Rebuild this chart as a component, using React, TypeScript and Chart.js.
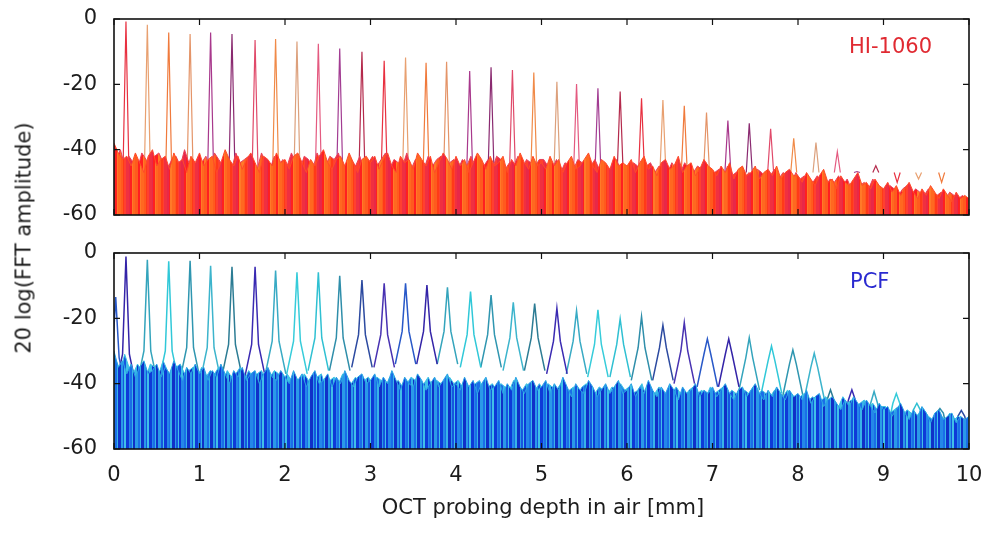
import React, { useEffect, useRef } from 'react';
import { Chart, registerables } from 'chart.js';

Chart.register(...registerables);

// ---------- data ----------
const xTickValues = [0, 1, 2, 3, 4, 5, 6, 7, 8, 9, 10];
const yTickValues = [-60, -40, -20, 0];
const noiseStep = 0.05; // mm between noise samples
const noiseOffsetB = 0.025; // second trace sampled half a step later

// HI-1060 noise floor top (dB), trace A, 0 .. 10 mm
const hiNoise = [
  -38, -41, -43, -42, -45, -41, -44, -47, -42, -40, -45, -43, -42, -46, -41, -44, -43, -47, -42, -44,
  -41, -45, -43, -42, -47, -44, -40, -43, -45, -42, -46, -43, -41, -44, -47, -42, -43, -45, -41, -44,
  -43, -46, -42, -41, -44, -47, -43, -45, -42, -40, -44, -46, -43, -42, -45, -41, -44, -47, -43, -42,
  -44, -42, -46, -43, -41, -45, -47, -42, -44, -43, -46, -41, -43, -45, -42, -47, -44, -41, -43, -46,
  -42, -45, -43, -47, -44, -41, -43, -46, -42, -45, -44, -42, -47, -43, -45, -41, -44, -46, -42, -45,
  -44, -46, -42, -45, -43, -47, -44, -42, -46, -45, -43, -41, -45, -47, -43, -44, -46, -42, -45, -44,
  -45, -43, -47, -44, -42, -46, -45, -48, -44, -43, -46, -45, -42, -47, -45, -44, -48, -46, -43, -45,
  -46, -48, -45, -47, -44, -49, -46, -45, -48, -47, -45, -49, -47, -46, -48, -45, -49, -47, -46, -48,
  -48, -50, -47, -49, -51, -48, -46, -50, -49, -52, -48, -50, -51, -49, -47, -51, -50, -52, -49, -51,
  -52, -50, -53, -51, -54, -52, -50, -53, -55, -52, -54, -51, -53, -55, -52, -54, -56, -53, -55, -54,
  -55,
];
// HI-1060 noise, trace B
const hiNoiseB = [
  -43, -40, -45, -42, -44, -46, -41, -43, -45, -42, -41, -44, -46, -43, -42, -45, -40, -44, -43, -46,
  -44, -42, -46, -41, -43, -45, -42, -46, -41, -44, -43, -42, -45, -46, -41, -44, -46, -42, -45, -43,
  -45, -41, -44, -46, -42, -43, -46, -41, -44, -45, -42, -43, -41, -46, -44, -43, -45, -42, -46, -44,
  -42, -45, -43, -41, -46, -43, -44, -45, -41, -46, -43, -44, -46, -42, -45, -43, -42, -46, -44, -43,
  -46, -43, -45, -42, -46, -44, -45, -43, -46, -42, -43, -46, -44, -45, -42, -46, -43, -44, -45, -43,
  -43, -45, -46, -43, -47, -44, -45, -46, -43, -44, -47, -45, -43, -46, -44, -47, -45, -43, -46, -45,
  -46, -44, -45, -47, -45, -44, -47, -45, -46, -47, -44, -46, -47, -44, -46, -47, -45, -46, -44, -47,
  -47, -46, -49, -45, -48, -47, -46, -49, -47, -48, -46, -47, -49, -48, -46, -49, -47, -48, -50, -47,
  -49, -48, -51, -50, -48, -50, -51, -49, -50, -48, -51, -49, -52, -50, -51, -50, -52, -49, -51, -53,
  -53, -51, -52, -54, -52, -51, -54, -52, -53, -54, -52, -53, -54, -53, -55, -53, -54, -55, -54, -56,
];

// PCF noise floor top (dB), trace A, 0 .. 10 mm
const pcfNoise = [
  -30, -35, -33, -37, -34, -38, -35, -33, -37, -36, -34, -38, -35, -37, -33, -36, -39, -35, -37, -34,
  -37, -35, -39, -36, -38, -34, -37, -40, -36, -38, -35, -39, -37, -36, -40, -37, -35, -38, -39, -36,
  -38, -40, -36, -39, -37, -41, -38, -36, -40, -39, -37, -41, -38, -40, -36, -39, -41, -38, -37, -40,
  -39, -37, -41, -38, -40, -36, -39, -42, -38, -40, -41, -37, -39, -42, -40, -38, -41, -39, -37, -41,
  -40, -42, -38, -41, -39, -43, -40, -38, -42, -41, -39, -43, -40, -42, -38, -41, -43, -40, -39, -42,
  -41, -39, -43, -40, -42, -38, -41, -44, -40, -42, -43, -39, -41, -44, -42, -40, -43, -41, -39, -43,
  -42, -40, -44, -41, -43, -39, -42, -44, -41, -43, -40, -42, -45, -41, -43, -42, -40, -44, -42, -43,
  -41, -44, -42, -40, -43, -45, -42, -41, -44, -42, -40, -43, -45, -42, -44, -41, -43, -45, -42, -44,
  -43, -45, -42, -46, -44, -43, -47, -45, -44, -46, -48, -45, -47, -44, -46, -48, -45, -47, -49, -46,
  -48, -47, -50, -48, -46, -49, -51, -48, -50, -47, -49, -52, -49, -48, -51, -50, -49, -52, -50, -51,
  -50,
];
// PCF noise, trace B
const pcfNoiseB = [
  -33, -36, -31, -35, -37, -34, -36, -38, -34, -35, -37, -33, -36, -38, -35, -34, -37, -36, -35, -38,
  -35, -38, -36, -37, -35, -39, -36, -38, -37, -35, -39, -36, -38, -37, -36, -39, -38, -36, -37, -39,
  -37, -39, -38, -40, -37, -39, -40, -38, -37, -41, -39, -38, -40, -37, -39, -40, -38, -40, -39, -38,
  -40, -38, -39, -41, -38, -40, -39, -41, -40, -38, -39, -41, -40, -38, -41, -39, -40, -42, -38, -40,
  -39, -41, -40, -42, -40, -39, -42, -41, -40, -42, -40, -41, -42, -39, -41, -42, -40, -41, -42, -40,
  -42, -40, -41, -42, -40, -43, -42, -41, -43, -41, -40, -42, -43, -41, -42, -43, -41, -42, -40, -42,
  -41, -43, -42, -40, -44, -42, -43, -41, -44, -42, -43, -41, -43, -44, -42, -41, -43, -42, -44, -41,
  -43, -42, -41, -44, -42, -43, -44, -42, -43, -41, -44, -42, -43, -44, -42, -43, -44, -42, -43, -45,
  -44, -43, -45, -44, -46, -45, -44, -46, -45, -47, -44, -46, -45, -47, -46, -45, -47, -46, -48, -47,
  -47, -49, -48, -47, -50, -48, -49, -50, -49, -48, -50, -51, -49, -50, -51, -49, -51, -50, -51, -52,
];

// HI-1060 peaks
const hiPeakX = [
  0.14, 0.39, 0.64, 0.89, 1.13, 1.38, 1.65, 1.89, 2.14, 2.39,
  2.64, 2.9, 3.16, 3.41, 3.65, 3.89, 4.16, 4.41, 4.66, 4.91,
  5.18, 5.41, 5.66, 5.92, 6.17, 6.42, 6.67, 6.93, 7.18, 7.43,
  7.68, 7.95, 8.21, 8.46, 8.69, 8.91, 9.16, 9.41, 9.68,
];
const hiPeakY = [
  -0.8, -1.8, -4.1, -4.6, -4.1, -4.6, -6.4, -6.1, -6.9, -7.6,
  -9.0, -10.0, -12.8, -11.8, -13.4, -13.1, -15.9, -14.8, -15.6, -16.4,
  -19.2, -19.9, -21.2, -22.2, -24.3, -24.8, -26.6, -28.6, -31.1, -31.9,
  -33.6, -36.5, -37.8, -40.6, -46.7, -44.9, -50, -49, -50,
];
const hiBaseY = -47;

// PCF peaks (first one is the DC edge)
const pcfPeakX = [
  0.02,
  0.14, 0.39, 0.64, 0.89, 1.13, 1.38, 1.65, 1.89, 2.14, 2.39,
  2.64, 2.9, 3.16, 3.41, 3.66, 3.9, 4.17, 4.41, 4.67, 4.92,
  5.18, 5.41, 5.66, 5.92, 6.17, 6.42, 6.67, 6.94, 7.19, 7.43,
  7.69, 7.94, 8.19, 8.38, 8.63, 8.89, 9.15, 9.39, 9.66, 9.91,
];
const pcfPeakY = [
  -13.5,
  -1.1, -2.1, -2.5, -2.4, -3.9, -4.2, -4.2, -5.4, -5.9, -5.9,
  -7.0, -8.3, -9.3, -9.3, -9.8, -10.5, -11.8, -12.9, -15.1, -15.5,
  -16.9, -17.7, -17.4, -20.2, -19.5, -22.1, -21.3, -26.3, -26.3, -25.9,
  -28.5, -29.7, -30.7, -41.9, -41.9, -42.4, -43, -46, -47.6, -48.2,
];
const pcfShoulderY = [
  -32,
  -31, -30, -30, -29, -29, -28, -28, -27, -27, -26,
  -26, -25, -25, -24, -24, -24, -25, -25, -26, -26,
  -27, -27, -28, -28, -29, -29, -30, -31, -31, -32,
  -33, -34, -35, -45, -45, -46, -46, -48, -49, -50,
];

// ---------- styles ----------
const FONT = "'DejaVu Sans', sans-serif";
const TEXT = '#1c1c1c';
const hiPalette = ['#e83040', '#e8a070', '#f07a3c', '#e49468', '#a8388c', '#8a2a70', '#e04a6a', '#f08a48', '#dca07c', '#e45a80', '#a23c92', '#b42a4c'];
const pcfPalette = ['#2858c8', '#3424a8', '#34a4bc', '#30c8d8', '#2f96b0', '#3cb4cc', '#2c7c94', '#3a2ab2', '#38aac4', '#36ccda', '#2fc0d2', '#2f8eaa', '#2c4aa0', '#4832b2'];
const hiStripeColors = ['#ff2020', '#ff5a1e', '#f03040', '#ff7a28', '#ff3a18', '#e82848', '#ff6820', '#ff4030'];
const pcfStripeColors = ['#1a6ee8', '#2a9ae8', '#0e3ad8', '#38b4e8', '#1656e0', '#2488e8', '#1030c8', '#40c0e8'];
const stripeWidths = [2, 1, 3, 2, 1, 2, 3, 1, 2, 1, 2, 3];

function makePattern(ctx: CanvasRenderingContext2D, colors: string[], shift: number) {
  const c = document.createElement('canvas');
  const total = stripeWidths.reduce((a, b) => a + b, 0) * 3;
  c.width = total;
  c.height = 4;
  const g = c.getContext('2d')!;
  let x = 0;
  for (let i = 0; i < stripeWidths.length * 3; i++) {
    const w = stripeWidths[(i + shift) % stripeWidths.length];
    g.fillStyle = colors[(i * 3 + shift) % colors.length];
    g.fillRect(x, 0, w, 4);
    x += w;
  }
  return ctx.createPattern(c, 'repeat');
}

const framePlugin = {
  id: 'frame',
  afterDatasetsDraw(chart: any) {
    const { ctx, chartArea: a, scales } = chart;
    ctx.save();
    ctx.strokeStyle = '#111';
    ctx.lineWidth = 1.2;
    ctx.beginPath();
    for (const v of xTickValues) {
      const px = scales.x.getPixelForValue(v);
      ctx.moveTo(px, a.top);
      ctx.lineTo(px, a.top + 6);
      ctx.moveTo(px, a.bottom);
      ctx.lineTo(px, a.bottom - 6);
    }
    for (const v of yTickValues) {
      const py = scales.y.getPixelForValue(v);
      ctx.moveTo(a.left, py);
      ctx.lineTo(a.left + 6, py);
      ctx.moveTo(a.right, py);
      ctx.lineTo(a.right - 6, py);
    }
    ctx.stroke();
    ctx.lineWidth = 1.6;
    ctx.strokeRect(a.left, a.top, a.right - a.left, a.bottom - a.top);
    ctx.restore();
  },
};

function zeroPadding(s: any) {
  s.paddingTop = 0;
  s.paddingBottom = 0;
  s.paddingLeft = 0;
  s.paddingRight = 0;
}

function yScale() {
  return {
    min: -60,
    max: 0,
    ticks: { stepSize: 20, padding: 17, color: TEXT, font: { family: FONT, size: 21 } },
    grid: { display: false, drawTicks: false },
    border: { display: false },
    afterFit: (s: any) => {
      s.width = 114;
      zeroPadding(s);
    },
  };
}

function noiseDataset(values: number[], offset: number, pattern: any, lineColor: string) {
  return {
    data: values.map((y, i) => ({ x: offset + i * noiseStep, y })),
    fill: 'start',
    backgroundColor: pattern,
    borderColor: lineColor,
    borderWidth: 1,
    pointRadius: 0,
    tension: 0,
  };
}

function hiPeakDatasets() {
  return hiPeakX.map((x, i) => ({
    data: [
      { x: x - 0.035, y: hiBaseY },
      { x, y: hiPeakY[i] },
      { x: x + 0.035, y: hiBaseY },
    ],
    fill: false,
    borderColor: hiPalette[i % hiPalette.length],
    borderWidth: 1.2,
    pointRadius: 0,
    tension: 0,
  }));
}

function pcfPeakDatasets() {
  return pcfPeakX.map((x, i) => {
    const sh = pcfShoulderY[i];
    const base = sh - 10;
    return {
      data: [
        { x: x - 0.12, y: base },
        { x: x - 0.04, y: sh },
        { x, y: pcfPeakY[i] },
        { x: x + 0.04, y: sh },
        { x: x + 0.12, y: base },
      ],
      fill: false,
      borderColor: pcfPalette[i % pcfPalette.length],
      borderWidth: 1.5,
      pointRadius: 0,
      tension: 0,
    };
  });
}

export default function App() {
  const topRef = useRef<HTMLCanvasElement>(null);
  const botRef = useRef<HTMLCanvasElement>(null);

  useEffect(() => {
    const tc = topRef.current!;
    const bc = botRef.current!;
    const tctx = tc.getContext('2d')!;
    const bctx = bc.getContext('2d')!;

    const top = new Chart(tctx, {
      type: 'line',
      data: {
        datasets: [
          noiseDataset(hiNoise, 0, makePattern(tctx, hiStripeColors, 0), '#ff4a2a'),
          noiseDataset(hiNoiseB, noiseOffsetB, makePattern(tctx, hiStripeColors, 5), '#e8405c'),
          ...hiPeakDatasets(),
        ] as any,
      },
      options: {
        animation: false,
        responsive: false,
        devicePixelRatio: 1,
        events: [],
        layout: { padding: { top: 19, right: 15, bottom: 19, left: 0 }, autoPadding: false },
        plugins: { legend: { display: false }, tooltip: { enabled: false } },
        scales: {
          x: { type: 'linear', min: 0, max: 10, display: false, afterFit: zeroPadding } as any,
          y: yScale() as any,
        },
      },
      plugins: [framePlugin],
    });

    const bottom = new Chart(bctx, {
      type: 'line',
      data: {
        datasets: [
          noiseDataset(pcfNoise, 0, makePattern(bctx, pcfStripeColors, 0), '#2aa4e4'),
          noiseDataset(pcfNoiseB, noiseOffsetB, makePattern(bctx, pcfStripeColors, 5), '#3cc4e2'),
          ...pcfPeakDatasets(),
        ] as any,
      },
      options: {
        animation: false,
        responsive: false,
        devicePixelRatio: 1,
        events: [],
        layout: { padding: { top: 19, right: 15, bottom: 0, left: 0 }, autoPadding: false },
        plugins: { legend: { display: false }, tooltip: { enabled: false } },
        scales: {
          x: {
            type: 'linear',
            min: 0,
            max: 10,
            ticks: { stepSize: 1, padding: 14, color: TEXT, font: { family: FONT, size: 21 }, maxRotation: 0 },
            grid: { display: false, drawTicks: false },
            border: { display: false },
            afterFit: (s: any) => {
              s.height = 89;
              zeroPadding(s);
            },
          } as any,
          y: yScale() as any,
        },
      },
      plugins: [framePlugin],
    });

    return () => {
      top.destroy();
      bottom.destroy();
    };
  }, []);

  const textBase: React.CSSProperties = {
    position: 'absolute',
    fontFamily: FONT,
    fontSize: 21,
    lineHeight: '21px',
    whiteSpace: 'nowrap',
    color: TEXT,
  };

  return (
    <div style={{ position: 'fixed', left: 0, top: 0, width: 984, height: 538, background: '#fff', overflow: 'hidden' }}>
      <canvas ref={topRef} width={984} height={234} style={{ position: 'absolute', left: 0, top: 0, width: 984, height: 234 }} />
      <canvas ref={botRef} width={984} height={304} style={{ position: 'absolute', left: 0, top: 234, width: 984, height: 304 }} />
      <div style={{ ...textBase, left: 849, top: 36, color: '#e02a32' }}>HI-1060</div>
      <div style={{ ...textBase, left: 850, top: 271, color: '#2a2ad0' }}>PCF</div>
      <div style={{ ...textBase, left: 543, top: 507, transform: 'translate(-50%, -50%)' }}>OCT probing depth in air [mm]</div>
      <div style={{ ...textBase, left: 24, top: 238, transform: 'translate(-50%, -50%) rotate(-90deg)' }}>20 log(FFT amplitude)</div>
    </div>
  );
}
